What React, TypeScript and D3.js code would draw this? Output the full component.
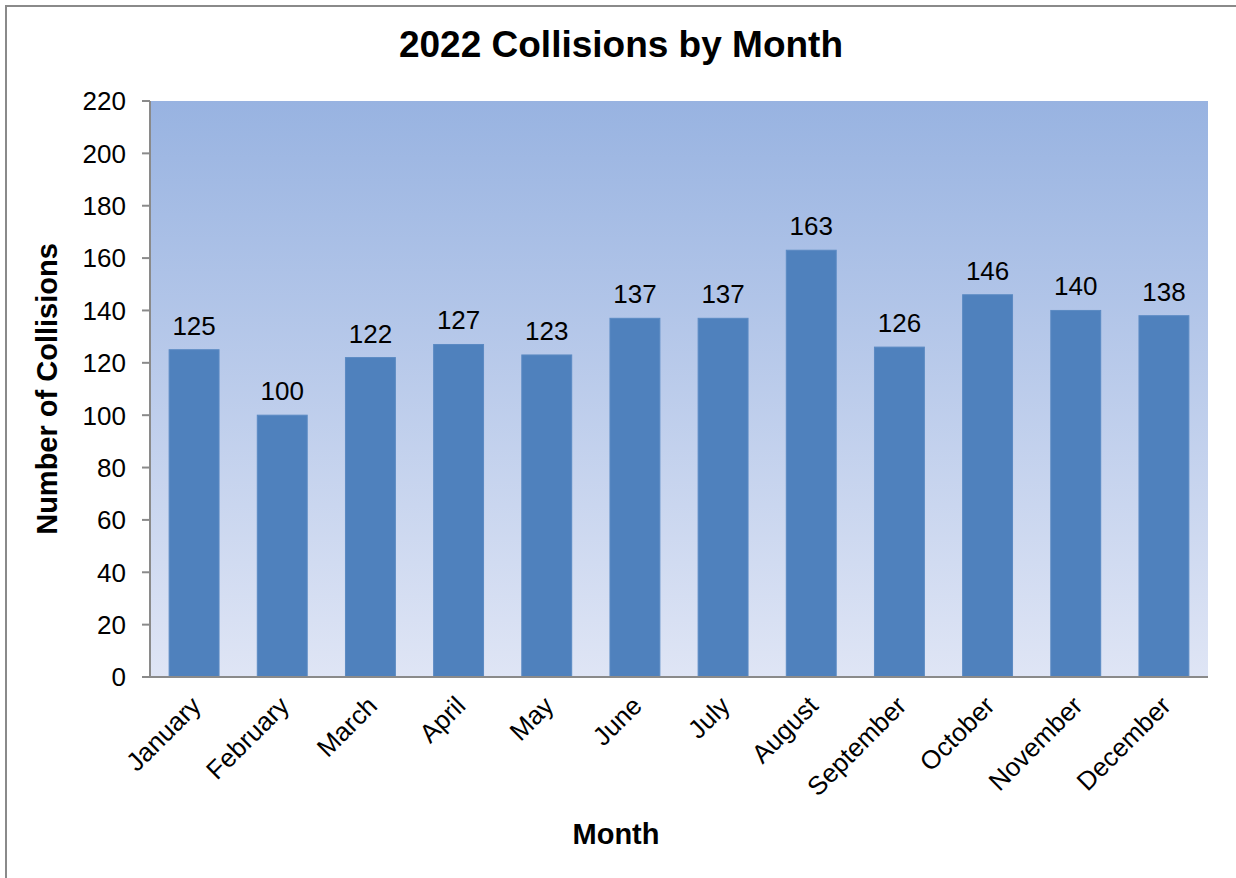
import React from "react";
import * as d3 from "d3";

const months = ["January","February","March","April","May","June","July","August","September","October","November","December"];
const collisions = [125,100,122,127,123,137,137,163,126,146,140,138];
const yTicks = [0,20,40,60,80,100,120,140,160,180,200,220];

export default function App() {
  const W = 1236, H = 878;
  const left = 150, right = 1208, top = 101, bottom = 677;
  const x = d3.scaleBand<string>().domain(months).range([left, right]).paddingInner(0.434).paddingOuter(0.217);
  const y = d3.scaleLinear().domain([0, 220]).range([bottom, top]);
  const font = "'Liberation Sans', Arial, sans-serif";
  return (
    <svg width={W} height={H} style={{ position: "absolute", left: 0, top: 0, fontFamily: font }}>
      <defs>
        <linearGradient id="bg" x1="0" y1="0" x2="0" y2="1">
          <stop offset="0" stopColor="#98B3E1" />
          <stop offset="1" stopColor="#DFE5F5" />
        </linearGradient>
      </defs>
      <rect x={0} y={0} width={W} height={H} fill="#fff" />
      <rect x={6} y={6} width={W + 10} height={H + 10} fill="none" stroke="#8a8a8a" strokeWidth={2} />
      <rect x={left} y={top} width={right - left} height={bottom - top} fill="url(#bg)" />
      {months.map((m, i) => (
        <rect key={m} x={x(m)} y={y(collisions[i])} width={x.bandwidth()} height={bottom - y(collisions[i])}
          fill="#4F81BD" stroke="#5B8AC3" strokeWidth={1} />
      ))}
      <line x1={left} y1={top} x2={left} y2={bottom} stroke="#8a8a8a" strokeWidth={2} />
      <line x1={left - 8} y1={bottom} x2={right} y2={bottom} stroke="#8a8a8a" strokeWidth={2} />
      {yTicks.map(t => (
        <g key={t}>
          <line x1={left - 8} x2={left} y1={y(t)} y2={y(t)} stroke="#8a8a8a" strokeWidth={2} />
          <text x={126} y={y(t)} dy="0.36em" textAnchor="end" fontSize={26} fill="#000">{t}</text>
        </g>
      ))}
      {months.map((m, i) => {
        const cx = (x(m) as number) + x.bandwidth() / 2;
        return (
          <g key={m}>
            <text x={cx} y={y(collisions[i]) - 15} textAnchor="middle" fontSize={26} fill="#000">{collisions[i]}</text>
            <text transform={`translate(${cx + 2},${bottom + 24}) rotate(-45)`} textAnchor="end" dy="0.35em" fontSize={26} fill="#000">{m}</text>
          </g>
        );
      })}
      <text x={621} y={57} textAnchor="middle" fontSize={37} fontWeight="bold" fill="#000">2022 Collisions by Month</text>
      <text x={616} y={844} textAnchor="middle" fontSize={29} fontWeight="bold" fill="#000">Month</text>
      <text transform={`translate(57,389) rotate(-90)`} textAnchor="middle" fontSize={29} fontWeight="bold" fill="#000">Number of Collisions</text>
    </svg>
  );
}
